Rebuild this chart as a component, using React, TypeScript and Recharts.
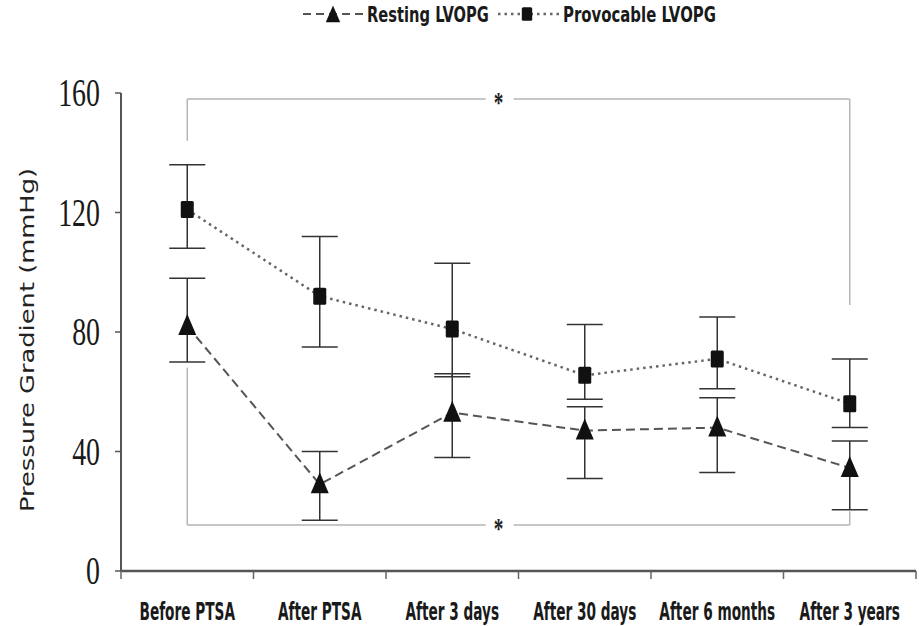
import React from "react";
import {
  LineChart,
  Line,
  XAxis,
  YAxis,
  ErrorBar,
  ReferenceLine,
  Legend,
} from "recharts";

const categories = [
  "Before PTSA",
  "After PTSA",
  "After 3 days",
  "After 30 days",
  "After 6 months",
  "After 3 years",
];

// Resting LVOPG (mmHg) with lower / upper error lengths
const resting = [82, 29, 53, 47, 48, 34.5];
const restingErrLow = [12, 12, 15, 16, 15, 14];
const restingErrHigh = [16, 11, 13, 8, 10, 9];

// Provocable LVOPG (mmHg)
const provocable = [121, 92, 81, 65.5, 71, 56];
const provocableErrLow = [13, 17, 16, 8, 10, 8];
const provocableErrHigh = [15, 20, 22, 17, 14, 15];

const yTicks = [0, 40, 80, 120, 160];

// significance brackets (mmHg)
const bracketTop = 158;
const bracketTopLeftEnd = 144;
const bracketTopRightEnd = 89;
const bracketBottom = 15.4;
const bracketBottomLeftEnd = 68;
const bracketBottomRightEnd = 20;

const W = 919;
const H = 626;
const Y_AXIS_W = 121;
const X_AXIS_H = 55;
const PLOT_W = W - Y_AXIS_W - 3;
const HALF_BAND = PLOT_W / categories.length / 2;

const data = categories.map((name, i) => ({
  name,
  resting: resting[i],
  restErr: [restingErrLow[i], restingErrHigh[i]],
  provocable: provocable[i],
  provErr: [provocableErrLow[i], provocableErrHigh[i]],
}));

const LABEL_FONT = "'DejaVu Sans', 'Noto Sans', sans-serif";
const BRACKET = "#b5b5b5";

function TriangleDot({ cx, cy, scale = 1 }: { cx?: number; cy?: number; scale?: number }) {
  if (cx == null || cy == null) return null;
  const hw = 9 * scale;
  const up = 12 * scale;
  const down = 9 * scale;
  return (
    <path
      d={`M${cx},${cy - up} L${cx + hw},${cy + down} L${cx - hw},${cy + down} Z`}
      fill="#111"
    />
  );
}

function SquareDot({ cx, cy, scale = 1 }: { cx?: number; cy?: number; scale?: number }) {
  if (cx == null || cy == null) return null;
  const w = 13 * scale;
  const h = 17 * scale;
  return <rect x={cx - w / 2} y={cy - h / 2} width={w} height={h} rx={1.5} fill="#111" />;
}

function XTick(props: any) {
  const { x, y, payload, index } = props;
  const isLast = index === categories.length - 1;
  return (
    <g>
      <line x1={x - HALF_BAND} x2={x - HALF_BAND} y1={y - 8} y2={y} stroke="#666" strokeWidth={1.5} />
      {isLast && (
        <line x1={x + HALF_BAND} x2={x + HALF_BAND} y1={y - 8} y2={y} stroke="#666" strokeWidth={1.5} />
      )}
      <text
        transform={`translate(${x},${620}) scale(0.57,1)`}
        textAnchor="middle"
        fontFamily={LABEL_FONT}
        fontWeight="bold"
        fontSize={24}
        fill="#1a1a1a"
      >
        {payload.value}
      </text>
    </g>
  );
}

function YTick(props: any) {
  const { x, y, payload } = props;
  return (
    <text
      transform={`translate(${x},${y}) scale(0.68,1)`}
      textAnchor="end"
      dominantBaseline="central"
      fontFamily="'Liberation Serif', 'DejaVu Serif', serif"
      fontSize={41}
      fill="#1a1a1a"
    >
      {payload.value}
    </text>
  );
}

function YTitle() {
  return (
    <text
      transform="translate(27,340) rotate(-90) scale(1.32,1)"
      textAnchor="middle"
      dominantBaseline="central"
      fontFamily={LABEL_FONT}
      fontSize={19.5}
      fill="#222"
    >
      Pressure Gradient (mmHg)
    </text>
  );
}

function Star(props: any) {
  const vb = props.viewBox || {};
  const cx = vb.x + vb.width * 0.47;
  const cy = vb.y;
  return (
    <g>
      <rect x={cx - 13} y={cy - 6} width={28} height={12} fill="#fff" />
      <text
        transform={`translate(${cx},${cy + 13}) scale(0.8,1.25)`}
        textAnchor="middle"
        fontFamily="'Liberation Serif', serif"
        fontWeight="bold"
        fontSize={24}
        fill="#222"
      >
        *
      </text>
    </g>
  );
}

function LegendContent() {
  const y = 14;
  return (
    <svg width={W} height={32} style={{ display: "block" }}>
      <line x1={303} x2={365} y1={y} y2={y} stroke="#555" strokeWidth={2} strokeDasharray="8 5" />
      <TriangleDot cx={333} cy={y + 1} scale={0.8} />
      <text
        transform="translate(367,21.5) scale(0.7,1)"
        fontFamily={LABEL_FONT}
        fontWeight="bold"
        fontSize={21}
        fill="#1a1a1a"
      >
        Resting LVOPG
      </text>
      <line x1={498} x2={560} y1={y} y2={y} stroke="#666" strokeWidth={2.5} strokeDasharray="2.5 4" />
      <SquareDot cx={527} cy={y} scale={0.8} />
      <text
        transform="translate(563,21.5) scale(0.71,1)"
        fontFamily={LABEL_FONT}
        fontWeight="bold"
        fontSize={21}
        fill="#1a1a1a"
      >
        Provocable LVOPG
      </text>
    </svg>
  );
}

export default function App() {
  const first = categories[0];
  const last = categories[categories.length - 1];
  return (
    <div style={{ position: "absolute", left: 0, top: 0, width: W, height: H, background: "#fff" }}>
      <LineChart
        width={W}
        height={H}
        data={data}
        margin={{ top: 93, right: 3, left: 0, bottom: 0 }}
      >
        <Legend
          verticalAlign="middle"
          align="center"
          content={<LegendContent />}
          wrapperStyle={{ top: 0, left: 0, width: W }}
        />
        <XAxis
          dataKey="name"
          height={X_AXIS_H}
          padding={{ left: HALF_BAND, right: HALF_BAND }}
          axisLine={{ stroke: "#555", strokeWidth: 2.5 }}
          tickLine={false}
          tick={<XTick />}
          interval={0}
        />
        <YAxis
          width={Y_AXIS_W}
          domain={[0, 160]}
          ticks={yTicks}
          axisLine={{ stroke: "#555", strokeWidth: 2 }}
          tickLine={{ stroke: "#555", strokeWidth: 1.5 }}
          tickSize={6}
          tickMargin={15}
          tick={<YTick />}
          label={<YTitle />}
        />

        <ReferenceLine
          segment={[{ x: first, y: bracketTop }, { x: last, y: bracketTop }]}
          stroke={BRACKET}
          strokeWidth={1.5}
          label={<Star />}
        />
        <ReferenceLine
          segment={[{ x: first, y: bracketTop }, { x: first, y: bracketTopLeftEnd }]}
          stroke={BRACKET}
          strokeWidth={1.5}
        />
        <ReferenceLine
          segment={[{ x: last, y: bracketTop }, { x: last, y: bracketTopRightEnd }]}
          stroke={BRACKET}
          strokeWidth={1.5}
        />
        <ReferenceLine
          segment={[{ x: first, y: bracketBottom }, { x: last, y: bracketBottom }]}
          stroke={BRACKET}
          strokeWidth={1.5}
          label={<Star />}
        />
        <ReferenceLine
          segment={[{ x: first, y: bracketBottom }, { x: first, y: bracketBottomLeftEnd }]}
          stroke={BRACKET}
          strokeWidth={1.5}
        />
        <ReferenceLine
          segment={[{ x: last, y: bracketBottom }, { x: last, y: bracketBottomRightEnd }]}
          stroke={BRACKET}
          strokeWidth={1.5}
        />

        <Line
          type="linear"
          dataKey="resting"
          stroke="#555"
          strokeWidth={2}
          strokeDasharray="9 5"
          isAnimationActive={false}
          dot={(p: any) => <TriangleDot key={`t${p.index}`} cx={p.cx} cy={p.cy} />}
          activeDot={false}
        >
          <ErrorBar dataKey="restErr" width={18} stroke="#333" strokeWidth={1.5} isAnimationActive={false} />
        </Line>
        <Line
          type="linear"
          dataKey="provocable"
          stroke="#666"
          strokeWidth={2.5}
          strokeDasharray="2.5 4"
          isAnimationActive={false}
          dot={(p: any) => <SquareDot key={`s${p.index}`} cx={p.cx} cy={p.cy} />}
          activeDot={false}
        >
          <ErrorBar dataKey="provErr" width={18} stroke="#333" strokeWidth={1.5} isAnimationActive={false} />
        </Line>
      </LineChart>
    </div>
  );
}
